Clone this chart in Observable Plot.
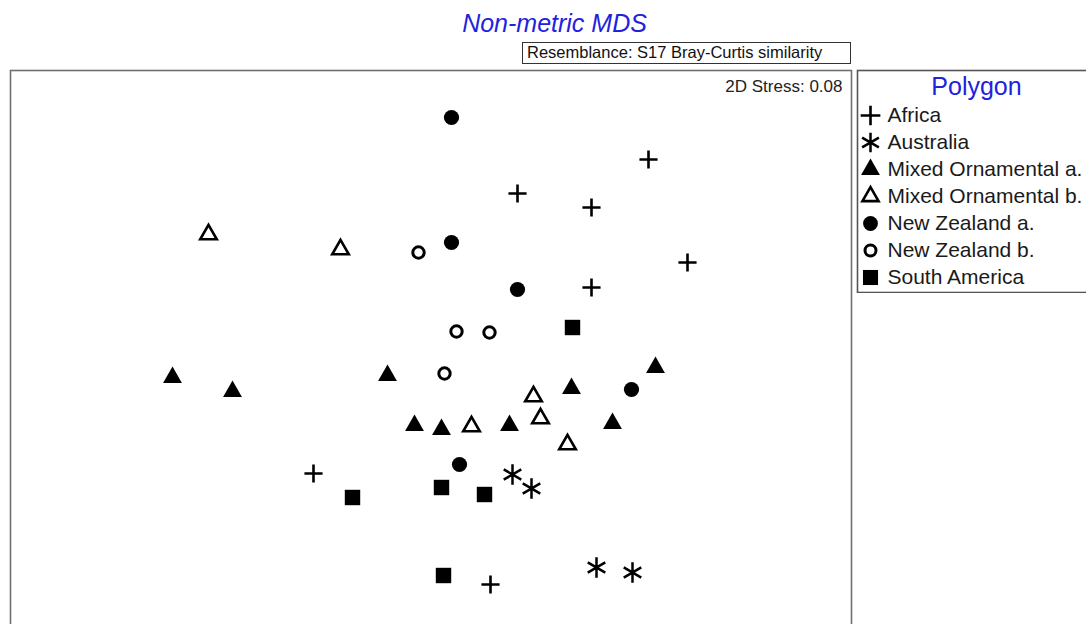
<!DOCTYPE html>
<html>
<head>
<meta charset="utf-8">
<script src="https://cdn.jsdelivr.net/npm/d3@7"></script>
<script src="https://cdn.jsdelivr.net/npm/@observablehq/plot@0.6"></script>
<style>
  html, body { margin: 0; padding: 0; background: #fff; overflow: hidden; width: 1086px; height: 624px; }
  body { position: relative; font-family: "Liberation Sans", Arial, sans-serif; }
  #title { position: absolute; left: 0; top: 11px; width: 1109px; text-align: center; font-size: 25px; line-height: 25px; font-style: italic; color: #2222dd; }
  #resem { position: absolute; left: 522px; top: 42px; width: 329px; height: 22px; box-sizing: border-box; border: 1px solid #333; font-size: 16.5px; line-height: 18px; padding-left: 4px; color: #111; white-space: nowrap; }
  #main { position: absolute; left: 0; top: 0; width: 860px; }
  #legend { position: absolute; left: 856px; top: 69px; width: 240px; }
  #main svg, #legend svg { max-width: none !important; }
</style>
</head>
<body>
<div id="title">Non-metric MDS</div>
<div id="resem">Resemblance: S17 Bray-Curtis similarity</div>
<div id="main"></div>
<div id="legend"></div>
<script>
// ---- Data (MDS ordination coordinates) ----
const groups = ["Africa", "Australia", "Mixed Ornamental a.", "Mixed Ornamental b.", "New Zealand a.", "New Zealand b.", "South America"];

const africaX = [2.18, 0.87, 1.61, 2.57, 1.61, -1.17, 0.60];
const africaY = [1.91, 1.57, 1.43, 0.88, 0.63, -1.23, -2.34];

const australiaX = [0.82, 1.01, 1.66, 2.02];
const australiaY = [-1.24, -1.38, -2.17, -2.22];

const mixedAX = [-2.58, -1.98, -0.43, 1.41, 2.25, -0.16, 0.11, 0.79, 1.82];
const mixedAY = [-0.27, -0.41, -0.25, -0.38, -0.17, -0.75, -0.79, -0.75, -0.73];

const mixedBX = [-2.22, -0.90, 1.03, 1.10, 0.41, 1.37];
const mixedBY = [1.16, 1.01, -0.46, -0.68, -0.76, -0.94];

const nzAX = [0.21, 0.21, 0.87, 2.01, 0.29];
const nzAY = [2.33, 1.08, 0.61, -0.39, -1.14];

const nzBX = [-0.12, 0.26, 0.59, 0.14];
const nzBY = [0.98, 0.19, 0.18, -0.23];

const southAmX = [1.42, -0.78, 0.11, 0.54, 0.13];
const southAmY = [0.23, -1.47, -1.37, -1.44, -2.25];

const stressLabel = "2D Stress: 0.08";
const legendTitle = "Polygon";

// ---- Build table ----
const seriesX = [africaX, australiaX, mixedAX, mixedBX, nzAX, nzBX, southAmX];
const seriesY = [africaY, australiaY, mixedAY, mixedBY, nzAY, nzBY, southAmY];
const points = [];
groups.forEach((g, i) => seriesX[i].forEach((x, j) => points.push({group: g, mds1: x, mds2: seriesY[i][j]})));

// symbol styles per group
const styles = {
  "Africa":              {symbol: "plus",      r: 5.9, fill: "none",  stroke: "#000", strokeWidth: 2.6, lr: 6.4},
  "Australia":           {symbol: "asterisk",  r: 9.6, fill: "none",  stroke: "#000", strokeWidth: 2.5, lr: 9.2},
  "Mixed Ornamental a.": {symbol: "triangle",  r: 7.0, fill: "#000",  stroke: "none", strokeWidth: 0,   lr: 7.0},
  "Mixed Ornamental b.": {symbol: "triangle2", r: 7.9, fill: "none",  stroke: "#000", strokeWidth: 2.6, lr: 7.7},
  "New Zealand a.":      {symbol: "circle",    r: 7.6, fill: "#000",  stroke: "none", strokeWidth: 0,   lr: 7.4},
  "New Zealand b.":      {symbol: "circle",    r: 5.7, fill: "none",  stroke: "#000", strokeWidth: 3,   lr: 5.5},
  "South America":       {symbol: "square",    r: 8.7, fill: "#000",  stroke: "none", strokeWidth: 0,   lr: 8.5}
};

const font = "'Liberation Sans', Arial, sans-serif";

// ---- Main plot ----
const main = Plot.plot({
  width: 860,
  height: 628,
  marginLeft: 10,
  marginRight: 9,
  marginTop: 70,
  marginBottom: 0,
  style: {fontFamily: font, background: "transparent"},
  x: {domain: [-4.20, 4.21], axis: null},
  y: {domain: [-2.78, 2.80], axis: null},
  marks: [
    Plot.frame({stroke: "#707070", strokeWidth: 1.6}),
    ...groups.map(g => Plot.dot(points.filter(d => d.group === g), {
      x: "mds1", y: "mds2",
      symbol: styles[g].symbol, r: styles[g].r,
      fill: styles[g].fill, stroke: styles[g].stroke, strokeWidth: styles[g].strokeWidth
    })),
    Plot.text([stressLabel], {frameAnchor: "top-right", text: d => d, dx: -9, dy: 21, lineAnchor: "bottom", fontSize: 17, fill: "#222"})
  ]
});
document.getElementById("main").appendChild(main);

// ---- Legend ----
const legend = Plot.plot({
  width: 240,
  height: 224,
  marginLeft: 1,
  marginRight: 1,
  marginTop: 1,
  marginBottom: 1,
  style: {fontFamily: font, background: "#fff"},
  y: {type: "point", domain: groups, range: [46, 208], padding: 0, axis: null},
  marks: [
    Plot.frame({stroke: "#555", strokeWidth: 1.6}),
    Plot.text([legendTitle], {frameAnchor: "top", text: d => d, dy: 24, lineAnchor: "bottom", fontSize: 25, fill: "#2222dd"}),
    ...groups.map(g => Plot.dot([g], {
      y: d => d, frameAnchor: "left", dx: 13,
      symbol: styles[g].symbol, r: styles[g].lr,
      fill: styles[g].fill, stroke: styles[g].stroke, strokeWidth: styles[g].strokeWidth
    })),
    Plot.text(groups, {y: d => d, text: d => d, frameAnchor: "left", dx: 30, textAnchor: "start", lineAnchor: "middle", fontSize: 21, fill: "#1a1a1a"})
  ]
});
document.getElementById("legend").appendChild(legend);
</script>
</body>
</html>
